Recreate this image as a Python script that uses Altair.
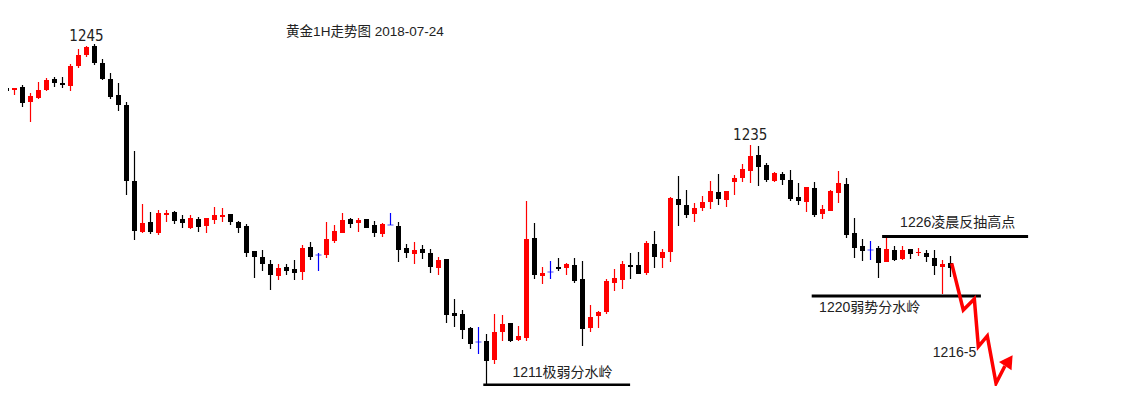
import altair as alt
import pandas as pd

# ---- candle data (index -1 .. 118), prices in USD/oz ----
opens = [1241.1, 1240.8, 1240.6, 1240.9, 1239.4, 1239.8, 1240.6, 1241.7, 1241.3, 1241.0,
         1243.0, 1244.1, 1245.0, 1243.3, 1241.7, 1240.1, 1239.1, 1231.5, 1226.4, 1227.4,
         1226.3, 1228.1, 1228.4, 1227.7, 1226.8, 1227.7, 1227.0, 1227.6, 1227.9, 1228.2,
         1227.4, 1227.0, 1224.5, 1223.9, 1223.2, 1222.0, 1222.9, 1222.7, 1222.4, 1224.9,
         1224.1, 1224.1, 1225.5, 1226.3, 1227.7, 1227.3, 1227.7, 1227.1, 1226.2, 1227.1,
         1227.0, 1224.8, 1224.2, 1224.7, 1224.3, 1222.8, 1223.7, 1218.3, 1218.2, 1216.8,
         1215.4, 1215.5, 1213.6, 1216.4, 1217.3, 1215.6, 1215.8, 1225.8, 1222.0, 1222.4,
         1222.9, 1222.8, 1223.1, 1221.7, 1216.8, 1218.0, 1218.4, 1221.3, 1221.6, 1223.1,
         1223.1, 1222.3, 1225.2, 1223.8, 1224.4, 1229.7, 1229.1, 1228.2, 1228.8, 1229.4,
         1230.4, 1229.6, 1231.4, 1231.8, 1232.5, 1234.1, 1233.1, 1231.5, 1232.2, 1231.6,
         1229.9, 1229.4, 1230.8, 1228.2, 1228.5, 1230.3, 1231.2, 1226.3, 1225.0, 1224.6,
         1224.8, 1223.4, 1224.6, 1223.7, 1224.7, 1224.3, 1224.3, 1223.8, 1222.9, 1223.3]
closes = [1240.9, 1240.5, 1240.8, 1239.3, 1240.0, 1240.6, 1241.6, 1241.3, 1241.1, 1243.0,
          1244.1, 1244.9, 1243.3, 1241.7, 1239.9, 1239.1, 1231.5, 1226.5, 1227.3, 1226.4,
          1228.3, 1228.3, 1227.5, 1227.3, 1227.8, 1226.9, 1227.8, 1228.1, 1228.1, 1227.4,
          1226.8, 1224.3, 1223.9, 1223.2, 1222.1, 1222.8, 1222.5, 1222.3, 1224.8, 1223.9,
          1224.1, 1225.7, 1226.5, 1227.6, 1227.2, 1227.6, 1226.8, 1226.3, 1227.2, 1227.1,
          1224.6, 1224.3, 1224.6, 1224.3, 1222.9, 1223.6, 1218.1, 1218.0, 1216.6, 1215.2,
          1215.4, 1213.5, 1216.4, 1217.2, 1215.5, 1216.0, 1225.7, 1222.1, 1222.3, 1222.4,
          1222.7, 1223.2, 1221.5, 1216.7, 1217.9, 1218.4, 1221.5, 1221.8, 1223.2, 1222.9,
          1222.2, 1225.3, 1223.9, 1224.4, 1229.8, 1229.1, 1228.1, 1228.8, 1229.4, 1230.5,
          1229.7, 1230.5, 1231.8, 1232.7, 1234.0, 1232.9, 1231.6, 1232.3, 1231.6, 1229.7,
          1229.5, 1230.9, 1228.1, 1228.7, 1230.5, 1231.3, 1226.1, 1224.8, 1224.5, 1224.6,
          1223.3, 1224.7, 1223.6, 1224.6, 1224.2, 1224.4, 1223.9, 1223.0, 1223.2, 1222.8]
highs = [1241.2, 1241.0, 1240.8, 1241.1, 1240.3, 1241.4, 1241.8, 1241.9, 1241.9, 1243.2,
         1244.7, 1245.0, 1245.2, 1243.7, 1242.3, 1241.3, 1239.4, 1234.5, 1229.2, 1228.4,
         1228.6, 1228.6, 1228.5, 1228.1, 1228.1, 1227.9, 1227.8, 1228.9, 1228.8, 1228.2,
         1227.5, 1227.2, 1224.5, 1224.6, 1223.6, 1223.2, 1223.2, 1223.6, 1225.1, 1225.4,
         1224.3, 1227.4, 1227.1, 1228.3, 1227.8, 1227.8, 1227.7, 1227.5, 1227.3, 1228.3,
         1227.4, 1225.2, 1225.4, 1225.1, 1224.7, 1223.9, 1223.7, 1219.7, 1218.6, 1216.9,
         1216.9, 1216.2, 1218.2, 1218.1, 1217.3, 1217.0, 1229.5, 1227.3, 1222.9, 1223.5,
         1223.8, 1223.3, 1223.8, 1223.5, 1219.1, 1218.5, 1221.7, 1222.7, 1223.5, 1224.3,
         1224.4, 1225.5, 1226.5, 1224.7, 1229.9, 1232.0, 1230.6, 1229.3, 1230.0, 1231.5,
         1232.2, 1230.5, 1232.1, 1233.2, 1235.1, 1235.0, 1233.3, 1232.4, 1232.4, 1232.6,
         1231.3, 1230.9, 1231.4, 1229.1, 1230.6, 1232.5, 1231.8, 1227.8, 1225.7, 1225.5,
         1225.0, 1225.8, 1225.0, 1225.0, 1224.7, 1224.8, 1224.6, 1224.6, 1223.6, 1224.0]
lows = [1240.8, 1240.4, 1240.1, 1238.9, 1237.4, 1239.7, 1240.5, 1240.9, 1240.8, 1240.5,
        1242.8, 1243.9, 1243.1, 1241.6, 1239.7, 1238.5, 1230.1, 1225.6, 1226.3, 1226.2,
        1226.1, 1227.4, 1227.2, 1226.8, 1226.7, 1226.4, 1226.3, 1227.2, 1227.4, 1227.1,
        1226.3, 1223.9, 1221.8, 1222.5, 1220.6, 1221.6, 1222.1, 1221.6, 1221.6, 1223.6,
        1222.5, 1223.8, 1225.3, 1226.3, 1226.8, 1226.4, 1226.8, 1225.9, 1225.9, 1227.1,
        1223.4, 1223.8, 1223.2, 1223.7, 1222.3, 1222.1, 1217.3, 1216.9, 1215.7, 1214.7,
        1214.2, 1211.1, 1213.2, 1215.5, 1215.4, 1215.5, 1215.5, 1221.7, 1221.2, 1221.7,
        1222.5, 1222.1, 1221.3, 1215.0, 1216.4, 1216.8, 1218.2, 1220.5, 1220.7, 1221.7,
        1222.2, 1222.1, 1222.8, 1222.8, 1223.4, 1227.0, 1227.8, 1227.4, 1228.5, 1228.7,
        1229.1, 1228.9, 1230.1, 1231.4, 1231.3, 1231.0, 1231.4, 1231.4, 1231.1, 1229.5,
        1229.1, 1228.4, 1227.9, 1227.7, 1228.5, 1229.3, 1225.8, 1223.8, 1223.5, 1223.6,
        1221.8, 1223.4, 1223.5, 1223.6, 1223.7, 1224.0, 1223.4, 1222.1, 1220.2, 1221.9]
bar_index = list(range(-1, len(opens) - 1))

# ---- annotation levels ----
level_price = [1211.1, 1225.95, 1220.0]
level_start = [59.6, 109.45, 100.65]
level_end = [77.95, 127.7, 121.8]

# ---- forecast zig-zag path ----
path_x = [118.15, 119.6, 120.98, 121.48, 122.6, 123.69, 124.8]
path_y = [1223.27, 1218.6, 1219.7, 1214.93, 1216.0, 1211.27, 1213.0]
head_x = [125.15]
head_y = [1213.35]

# ---- text labels ----
peak_text = ["1245", "1235"]
peak_x = [10.0, 92.97]
peak_y = [1246.05, 1236.1]
note_text = ["1211极弱分水岭", "1226凌晨反抽高点", "1220弱势分水岭", "1216-5"]
note_x = [69.5, 118.9, 107.9, 118.5]
note_y = [1212.27, 1227.33, 1218.8, 1214.35]
title_text = ["黄金1H走势图 2018-07-24"]
title_x = [44.8]
title_y = [1246.43]

df = pd.DataFrame({"i": bar_index, "open": opens, "close": closes,
                   "high": highs, "low": lows})
df["dir"] = ["flat" if o == c else ("up" if c > o else "down")
             for o, c in zip(opens, closes)]

xs = alt.Scale(domain=[0.1875, 141.5625], nice=False, zero=False, padding=0)
ys = alt.Scale(domain=[1211.0, 1248.8], nice=False, zero=False, padding=0)
col = alt.Color("dir:N", scale=alt.Scale(domain=["up", "down", "flat"],
                                         range=["#ff0000", "#000000", "#0000ff"]),
                legend=None)
X = lambda f: alt.X(f, scale=xs, axis=None)
Y = lambda f: alt.Y(f, scale=ys, axis=None)

base = alt.Chart(df)
wicks = base.mark_rule(strokeWidth=1.2).encode(x=X("i:Q"), y=Y("low:Q"), y2="high:Q", color=col)
bodies = base.transform_filter("datum.dir != 'flat'").mark_bar(size=5).encode(
    x=X("i:Q"), y=Y("open:Q"), y2="close:Q", color=col)
doji = base.transform_filter("datum.dir == 'flat'").mark_tick(
    orient="horizontal", size=6, thickness=1).encode(x=X("i:Q"), y=Y("open:Q"), color=col)

lv = pd.DataFrame({"p": level_price, "a": level_start, "b": level_end})
levels = alt.Chart(lv).mark_rule(strokeWidth=3, color="#000000").encode(
    x=X("a:Q"), x2="b:Q", y=Y("p:Q"))

pth = pd.DataFrame({"x": path_x, "y": path_y, "o": list(range(len(path_x)))})
path = alt.Chart(pth).mark_line(color="#ff0000", strokeWidth=3.5, strokeJoin="miter").encode(
    x=X("x:Q"), y=Y("y:Q"), order="o:Q")
hd = pd.DataFrame({"x": head_x, "y": head_y})
head = alt.Chart(hd).mark_point(shape="triangle", filled=True, color="#ff0000",
                                opacity=1, size=230, angle=34).encode(x=X("x:Q"), y=Y("y:Q"))

pk = pd.DataFrame({"t": peak_text, "x": peak_x, "y": peak_y})
peaks = alt.Chart(pk).mark_text(font="Liberation Sans Narrow, DejaVu Sans Condensed, Liberation Sans",
                                fontSize=15, color="#222222", baseline="middle").encode(
    x=X("x:Q"), y=Y("y:Q"), text="t:N")
nt = pd.DataFrame({"t": note_text, "x": note_x, "y": note_y})
notes = alt.Chart(nt).mark_text(font="Liberation Sans, Noto Sans CJK SC", fontSize=14,
                                color="#222222", baseline="middle").encode(
    x=X("x:Q"), y=Y("y:Q"), text="t:N")
tt = pd.DataFrame({"t": title_text, "x": title_x, "y": title_y})
title = alt.Chart(tt).mark_text(font="Liberation Sans, Noto Sans CJK SC", fontSize=13.5,
                                color="#222222", baseline="middle").encode(
    x=X("x:Q"), y=Y("y:Q"), text="t:N")

chart = alt.layer(wicks, bodies, doji, levels, path, head, peaks, notes, title).properties(
    width=1131, height=378, padding=0, autosize=alt.AutoSizeParams(type="none"),
    background="#ffffff"
).configure_view(stroke=None)

chart.save("out.html", embed_options={"renderer": "svg", "actions": False})
